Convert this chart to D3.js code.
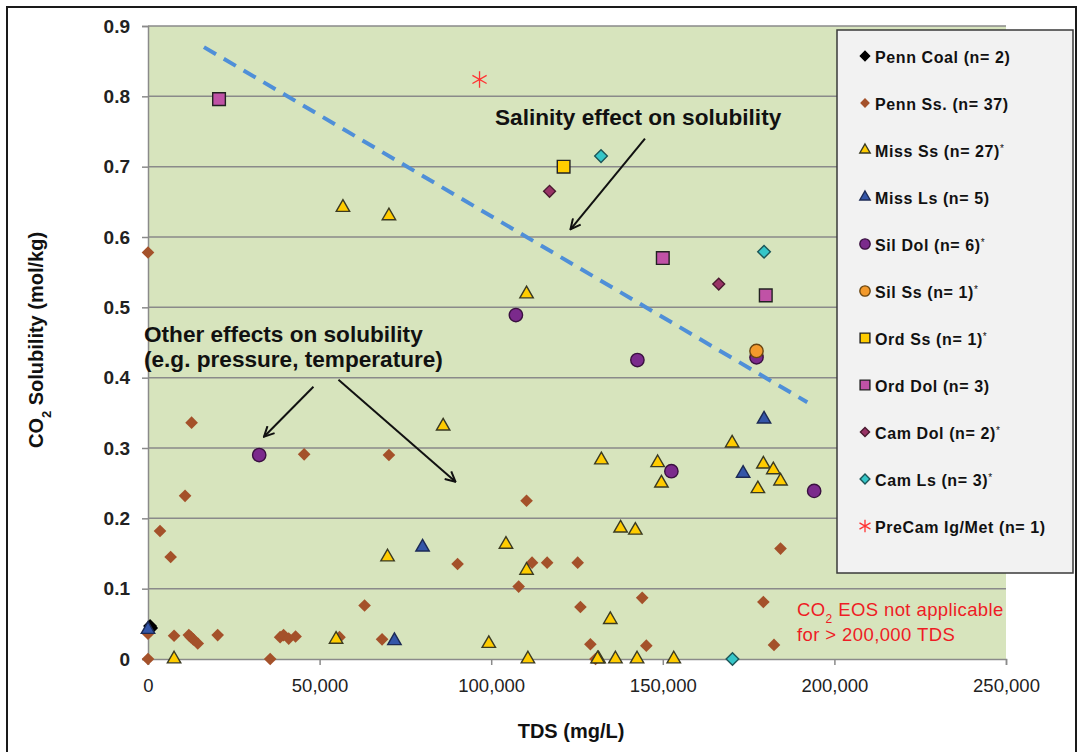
<!DOCTYPE html>
<html>
<head>
<meta charset="UTF-8"/>
<title>CO2 Solubility vs TDS</title>
<script src="https://cdn.jsdelivr.net/npm/d3@7"></script>
<style>
body { margin: 0; background: #fff; font-family: 'Liberation Sans', Arial, sans-serif; }
svg { display: block; }
.grid line { stroke: #8a8a8a; stroke-width: 1.5; }
.tick line { stroke: #8a8a8a; stroke-width: 1.5; }
.xaxis text { font-size: 18.5px; fill: #222; }
.yaxis text { font-size: 19px; font-weight: bold; fill: #222; }
.axtitle { font-size: 20px; font-weight: bold; fill: #111; }
.note { font-size: 22.6px; font-weight: bold; fill: #111; }
.warn { font-size: 18.5px; fill: #ee1c25; letter-spacing: 0.4px; }
.legend text { font-size: 16px; font-weight: bold; fill: #111; letter-spacing: 0.6px; }
</style>
</head>
<body>
<svg id="chart" width="1079" height="752"></svg>
<script>
// tick values
const tdsTicks = [0, 50000, 100000, 150000, 200000, 250000];
const solTicks = [0, 0.1, 0.2, 0.3, 0.4, 0.5, 0.6, 0.7, 0.8, 0.9];

// [TDS mg/L, CO2 solubility mol/kg]
const pennCoal = [[600, 0.047], [900, 0.044]];
const pennSs = [
  [0, 0.578], [0, 0], [0, 0.036], [3500, 0.182], [6600, 0.145], [7600, 0.033],
  [10800, 0.232], [11900, 0.034], [12500, 0.031], [12700, 0.336], [13200, 0.028],
  [14500, 0.022], [20300, 0.034], [35600, 0], [38500, 0.031], [39500, 0.034],
  [41000, 0.029], [43000, 0.032], [45500, 0.291], [55800, 0.031], [63100, 0.076],
  [68200, 0.028], [70200, 0.290], [90200, 0.135], [108000, 0.103], [110300, 0.225],
  [111900, 0.137], [116300, 0.137], [125200, 0.137], [126000, 0.074], [128900, 0.021],
  [130400, 0], [144000, 0.087], [145200, 0.019], [179300, 0.081], [182400, 0.02],
  [184300, 0.157]
];
const missSs = [
  [7600, 0], [54800, 0.028], [56800, 0.642], [69800, 0.145], [70200, 0.630],
  [86000, 0.331], [99300, 0.022], [104300, 0.163], [110300, 0.519], [110300, 0.126],
  [110700, 0], [131300, 0], [132100, 0.283], [134700, 0.056], [136200, 0],
  [137700, 0.186], [142000, 0.183], [142500, 0], [148500, 0.279], [149600, 0.250],
  [153200, 0], [170200, 0.307], [177700, 0.242], [179300, 0.277], [182200, 0.269],
  [184300, 0.253], [131000, 0]
];
const missLs = [[0, 0.042], [71800, 0.026], [80000, 0.159], [173400, 0.264], [179500, 0.341]];
const silDol = [[32400, 0.290], [107200, 0.489], [142600, 0.425], [152500, 0.267], [177300, 0.429], [194100, 0.239]];
const silSs = [[177300, 0.438]];
const ordSs = [[121100, 0.700]];
const ordDol = [[20700, 0.796], [150000, 0.570], [180000, 0.517]];
const camDol = [[117000, 0.665], [166300, 0.533]];
const camLs = [[132000, 0.715], [179500, 0.579], [170300, 0]];
const preCam = [[96600, 0.824]];

// salinity trend line and annotation arrows (data units)
const trend = [[16300, 0.870], [192100, 0.365]];
const arrows = [
  [[144800, 0.740], [123100, 0.611]],
  [[48200, 0.387], [33800, 0.316]],
  [[55500, 0.397], [89600, 0.252]]
];

const series = [
  { name: 'Penn Coal (n= 2)', star: false, data: pennCoal, shape: 'diamond', fill: '#000', stroke: '#000', size: 72 },
  { name: 'Penn Ss. (n= 37)', star: false, data: pennSs, shape: 'diamond', fill: '#a4512a', stroke: 'none', size: 80 },
  { name: 'Miss Ss (n= 27)', star: true, data: missSs, shape: 'triangle', fill: '#ffcc00', stroke: '#3a3a22', size: 78 },
  { name: 'Miss Ls (n= 5)', star: false, data: missLs, shape: 'triangle', fill: '#3456a8', stroke: '#1c2a55', size: 78 },
  { name: 'Sil Dol (n= 6)', star: true, data: silDol, shape: 'circle', fill: '#7b2a8c', stroke: '#3a1040', size: 140 },
  { name: 'Sil Ss (n= 1)', star: true, data: silSs, shape: 'circle', fill: '#f39a2c', stroke: '#6a4612', size: 140 },
  { name: 'Ord Ss (n= 1)', star: true, data: ordSs, shape: 'square', fill: '#ffcc00', stroke: '#222', size: 160 },
  { name: 'Ord Dol (n= 3)', star: false, data: ordDol, shape: 'square', fill: '#c052a6', stroke: '#222', size: 160 },
  { name: 'Cam Dol (n= 2)', star: true, data: camDol, shape: 'diamond', fill: '#993366', stroke: '#4a1a30', size: 70 },
  { name: 'Cam Ls (n= 3)', star: true, data: camLs, shape: 'diamond', fill: '#35c6c8', stroke: '#1d5658', size: 80 },
  { name: 'PreCam Ig/Met (n= 1)', star: false, data: preCam, shape: 'asterisk', fill: 'none', stroke: '#ff3333', size: 190 }
];

const svg = d3.select('#chart');
const plotLeft = 148, plotRight = 1006, plotTop = 26, plotBottom = 659;

const x = d3.scaleLinear().domain([0, 250000]).range([plotLeft, plotRight]);
const y = d3.scaleLinear().domain([0, 0.9]).range([plotBottom, plotTop]);

// outer chart frame
svg.append('rect')
  .attr('x', 7).attr('y', 7).attr('width', 1069).attr('height', 760)
  .attr('fill', '#fff').attr('stroke', '#1a1a1a').attr('stroke-width', 2);

// plot area
svg.append('rect')
  .attr('x', plotLeft).attr('y', plotTop)
  .attr('width', plotRight - plotLeft).attr('height', plotBottom - plotTop)
  .attr('fill', '#d7e4bd');

svg.append('g')
  .attr('class', 'grid')
  .selectAll('line')
  .data(solTicks.filter(d => d > 0))
  .join('line')
  .attr('x1', plotLeft).attr('x2', plotRight)
  .attr('y1', d => y(d)).attr('y2', d => y(d));

// axes
const xAxis = svg.append('g')
  .attr('class', 'xaxis')
  .attr('transform', `translate(0,${plotBottom})`)
  .call(d3.axisBottom(x).tickValues(tdsTicks).tickSize(6).tickPadding(14)
    .tickFormat(d3.format(',')));
xAxis.select('.domain').attr('stroke', '#8a8a8a').attr('stroke-width', 1.5);

const yAxis = svg.append('g')
  .attr('class', 'yaxis')
  .attr('transform', `translate(${plotLeft},0)`)
  .call(d3.axisLeft(y).tickValues(solTicks).tickSize(6).tickPadding(12)
    .tickFormat(d => d === 0 ? '0' : d3.format('.1f')(d)));
yAxis.select('.domain').attr('stroke', '#8a8a8a').attr('stroke-width', 1.5);
svg.selectAll('.xaxis, .yaxis').attr('font-family', null).attr('font-size', null);

// axis titles
svg.append('text')
  .attr('class', 'axtitle')
  .attr('x', (plotLeft + plotRight) / 2 - 6).attr('y', 738)
  .attr('text-anchor', 'middle')
  .text('TDS (mg/L)');

const yt = svg.append('text')
  .attr('class', 'axtitle')
  .attr('transform', 'translate(43,340) rotate(-90)')
  .attr('text-anchor', 'middle');
yt.append('tspan').text('CO');
yt.append('tspan').attr('baseline-shift', 'sub').attr('font-size', '13px').text('2');
yt.append('tspan').text(' Solubility (mol/kg)');

// trend line
svg.append('line')
  .attr('x1', x(trend[0][0])).attr('y1', y(trend[0][1]))
  .attr('x2', x(trend[1][0])).attr('y2', y(trend[1][1]))
  .attr('stroke', '#4f8fd8').attr('stroke-width', 4)
  .attr('stroke-dasharray', '14,9');

// arrows
svg.append('defs').append('marker')
  .attr('id', 'head')
  .attr('viewBox', '0 0 12 12')
  .attr('refX', 11).attr('refY', 6)
  .attr('markerWidth', 12).attr('markerHeight', 12)
  .attr('markerUnits', 'userSpaceOnUse')
  .attr('orient', 'auto')
  .append('path')
  .attr('d', 'M1,1 L11,6 L1,11')
  .attr('fill', 'none').attr('stroke', '#111').attr('stroke-width', 2);

svg.append('g')
  .selectAll('line')
  .data(arrows)
  .join('line')
  .attr('x1', d => x(d[0][0])).attr('y1', d => y(d[0][1]))
  .attr('x2', d => x(d[1][0])).attr('y2', d => y(d[1][1]))
  .attr('stroke', '#111').attr('stroke-width', 2)
  .attr('marker-end', 'url(#head)');

// annotation text
svg.append('text').attr('class', 'note').attr('x', 495).attr('y', 125)
  .text('Salinity effect on solubility');
svg.append('text').attr('class', 'note').attr('x', 144).attr('y', 342)
  .text('Other effects on solubility');
svg.append('text').attr('class', 'note').attr('x', 144).attr('y', 367)
  .text('(e.g. pressure, temperature)');

const w1 = svg.append('text').attr('class', 'warn').attr('x', 797).attr('y', 616);
w1.append('tspan').text('CO');
w1.append('tspan').attr('baseline-shift', 'sub').attr('font-size', '12px').text('2');
w1.append('tspan').text(' EOS not applicable');
svg.append('text').attr('class', 'warn').attr('x', 797).attr('y', 641)
  .text('for > 200,000 TDS');

// markers
function symbolFor(s, k) {
  const types = { diamond: d3.symbolSquare, square: d3.symbolSquare, triangle: d3.symbolTriangle,
    circle: d3.symbolCircle, asterisk: d3.symbolAsterisk };
  return d3.symbol().type(types[s.shape]).size(s.size * k)();
}

function drawMarks(sel, s, k) {
  sel.attr('d', symbolFor(s, k))
    .attr('fill', s.fill)
    .attr('stroke', s.stroke)
    .attr('stroke-width', s.shape === 'asterisk' ? 1.3 : 1.4);
}

series.forEach(s => {
  svg.append('g')
    .selectAll('path')
    .data(s.data)
    .join('path')
    .attr('transform', d => `translate(${x(d[0])},${y(d[1])})` + (s.shape === 'diamond' ? ' rotate(45)' : ''))
    .call(drawMarks, s, 1);
});

// legend
const lg = svg.append('g').attr('class', 'legend');
lg.append('rect')
  .attr('x', 837).attr('y', 30).attr('width', 236).attr('height', 543)
  .attr('fill', '#f2f2f2').attr('stroke', '#3a3a3a').attr('stroke-width', 1.5);

const items = lg.selectAll('g.item')
  .data(series)
  .join('g')
  .attr('class', 'item')
  .attr('transform', (d, i) => `translate(865,${56 + i * 47})`);

items.each(function (s) {
  const g = d3.select(this);
  g.append('path')
    .attr('transform', s.shape === 'diamond' ? 'rotate(45)' : null)
    .call(drawMarks, s, 0.6);
  const t = g.append('text').attr('x', 10).attr('y', 7).text(s.name);
  if (s.star) {
    t.append('tspan').attr('baseline-shift', 'super').attr('font-size', '10px')
      .attr('font-weight', 'normal').text('*');
  }
});
</script>
</body>
</html>
